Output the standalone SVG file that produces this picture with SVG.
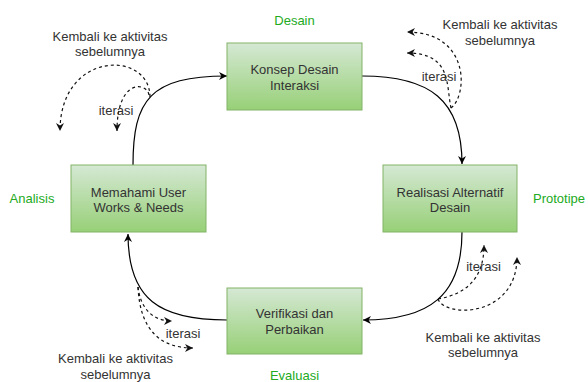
<svg xmlns="http://www.w3.org/2000/svg" width="588" height="382" viewBox="0 0 588 382">
  <defs>
    <linearGradient id="boxFill" x1="0" y1="0" x2="0" y2="1">
      <stop offset="0" stop-color="#d5e8d4"/>
      <stop offset="1" stop-color="#97d077"/>
    </linearGradient>
    <marker id="arrow" viewBox="0 0 10 10" refX="10" refY="5" markerWidth="9" markerHeight="8" markerUnits="userSpaceOnUse" orient="auto">
      <path d="M0,0 L10,5 L0,10 L3,5 Z" fill="#000"/>
    </marker>
    <marker id="arrowDash" viewBox="0 0 10 10" refX="10" refY="5" markerWidth="9" markerHeight="8" markerUnits="userSpaceOnUse" orient="auto">
      <path d="M0,0 L10,5 L0,10 L3,5 Z" fill="#111"/>
    </marker>
  </defs>
  <style>
    .box { fill: url(#boxFill); stroke: #82b366; stroke-width: 1; }
    .txt { font-family: "Liberation Sans", Arial, sans-serif; font-size: 13px; fill: #333; text-anchor: middle; }
    .phase { font-family: "Liberation Sans", Arial, sans-serif; font-size: 13px; fill: #22aa22; text-anchor: middle; }
    .flow { fill: none; stroke: #000; stroke-width: 1.2; marker-end: url(#arrow); }
    .loop { fill: none; stroke: #111; stroke-width: 1.2; stroke-dasharray: 3 3; marker-end: url(#arrowDash); }
  </style>
  <rect width="588" height="382" fill="#fff"/>

  <!-- phase labels -->
  <g id="phase-labels">
    <text class="phase" x="294.5" y="25">Desain</text>
    <text class="phase" x="32" y="203">Analisis</text>
    <text class="phase" x="559" y="203">Prototipe</text>
    <text class="phase" x="294.5" y="380">Evaluasi</text>
  </g>

  <!-- main cycle and feedback loops -->
  <g id="connectors">
    <path class="flow" d="M133,165 C133,100 150,76 227,76"/>
    <path class="flow" d="M362,76 C430,76 462,100 462,164"/>
    <path class="flow" d="M462,232 C462,295 430,320 363,320"/>
    <path class="flow" d="M227,320 C160,320 128,300 128,234"/>

    <path class="loop" d="M150,97 C150,50 60,50 60,131"/>
    <path class="loop" d="M149,95 C147,82 117,78 117,131"/>

    <path class="loop" d="M451,108 C468,95 470,32 407,32"/>
    <path class="loop" d="M451,108 C446,85 452,53 407,53"/>

    <path class="loop" d="M438,299 C465,294 484,280 484,245"/>
    <path class="loop" d="M438,299 C445,318 517,318 517,257"/>

    <path class="loop" d="M138,287 C140,305 150,321 172,321"/>
    <path class="loop" d="M138,287 C140,330 160,348 193,348"/>
  </g>

  <!-- loop labels -->
  <g id="loop-labels">
    <text class="txt" x="110" y="41">Kembali ke aktivitas</text>
    <text class="txt" x="110" y="56">sebelumnya</text>
    <text class="txt" x="116" y="115">iterasi</text>

    <text class="txt" x="500" y="29">Kembali ke aktivitas</text>
    <text class="txt" x="500" y="45">sebelumnya</text>
    <text class="txt" x="439" y="81">iterasi</text>

    <text class="txt" x="483.5" y="271">iterasi</text>
    <text class="txt" x="483" y="342">Kembali ke aktivitas</text>
    <text class="txt" x="483" y="357">sebelumnya</text>

    <text class="txt" x="183" y="338">iterasi</text>
    <text class="txt" x="115.5" y="363">Kembali ke aktivitas</text>
    <text class="txt" x="115.5" y="379">sebelumnya</text>
  </g>

  <g id="node-konsep">
    <rect class="box" x="227" y="43" width="135" height="67"/>
    <text class="txt" x="294.5" y="74">Konsep Desain</text>
    <text class="txt" x="294.5" y="90">Interaksi</text>
  </g>

  <g id="node-memahami">
    <rect class="box" x="71" y="165" width="135" height="67"/>
    <text class="txt" x="138.5" y="197">Memahami User</text>
    <text class="txt" x="138.5" y="212">Works &amp; Needs</text>
  </g>

  <g id="node-realisasi">
    <rect class="box" x="383" y="165" width="134" height="67"/>
    <text class="txt" x="450" y="197">Realisasi Alternatif</text>
    <text class="txt" x="450" y="212">Desain</text>
  </g>

  <g id="node-verifikasi">
    <rect class="box" x="227" y="288" width="135" height="66"/>
    <text class="txt" x="294.5" y="318">Verifikasi dan</text>
    <text class="txt" x="294.5" y="334">Perbaikan</text>
  </g>
</svg>
